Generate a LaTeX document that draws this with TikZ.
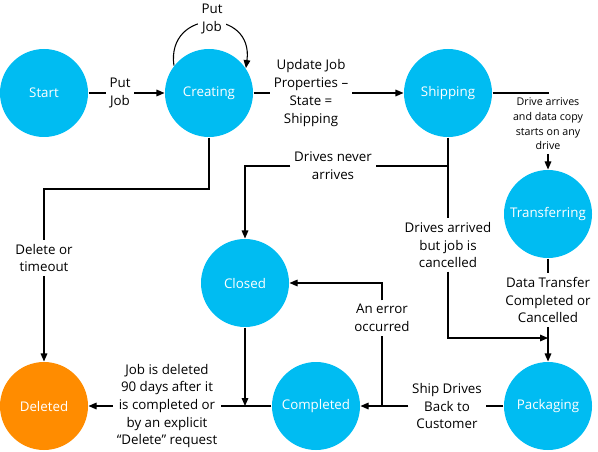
\documentclass[tikz,border=0pt]{standalone}
\usepackage{fontspec}
\setmainfont{Open Sans}
\usetikzlibrary{arrows.meta}
\definecolor{stblue}{RGB}{0,188,242}
\definecolor{storange}{RGB}{255,140,0}
\tikzset{
	state/.style={circle, fill=stblue, text=white, inner sep=0pt, minimum size=66pt, font=\fontsize{10}{12}\selectfont},
	lbl/.style={align=center, inner sep=2.5pt, font=\fontsize{10}{13.3}\selectfont},
	smalllbl/.style={lbl, font=\fontsize{8}{11}\selectfont},
	arr/.style={-{Triangle[length=6pt,width=5pt]}},
}
\begin{document}
\begin{tikzpicture}[x=0.75pt, y=-0.75pt, line width=0.8pt]
	    \useasboundingbox (0,0) rectangle (598,452);
	    
	    \node [state] (ST) at (44,93) {Start};
	    \node [state] (CR) at (209,93) {Creating};
	    \node [state] (SH) at (448,93) {Shipping};
	    \node [state] (TR) at (548,214) {Transferring};
	    \node [state] (CL) at (245,283) {Closed};
	    \node [state, fill=storange] (DE) at (44,406) {Deleted};
	    \node [state] (CO) at (316,406) {Completed};
	    \node [state] (PA) at (548,406) {Packaging};
	    
	    \node [lbl] (LPUT) at (120,93) {Put\\Job};
	    \node [lbl] (LUPD) at (311,93) {Update Job\\Properties –\\State =\\Shipping};
	    \node [smalllbl] (LDRV) at (548,124) {Drive arrives\\and data copy\\starts on any\\drive};
	    \node [lbl] (LNEV) at (333,166) {Drives never\\arrives};
	    \node [lbl] (LARR) at (448,245) {Drives arrived\\but job is\\cancelled};
	    \node [lbl] (LDAT) at (548,300) {Data Transfer\\Completed or\\Cancelled};
	    \node [lbl] (LERR) at (382,318) {An error\\occurred};
	    \node [lbl] (LSHP) at (447,406) {Ship Drives\\Back to\\Customer};
	    \node [lbl] (LJOB) at (167,406) {Job is deleted\\90 days after it\\is completed or\\by an explicit\\“Delete” request};
	    \node [lbl] (LDEL) at (44,258) {Delete or\\timeout};
	    
	    \coordinate (J1) at (448,166);
	    \coordinate (J2) at (548,338);
	    \coordinate (J3) at (382,406);
	    \coordinate (J4) at (245,406);
	    \coordinate (J5) at (44,189);
	    
		\draw (ST) -- (LPUT);
		\draw [arr] (LPUT) -- (CR);
		\draw [arr] (CR.142) .. controls (166,8) and (254,8) .. (CR.34);
		\draw (CR) -- (LUPD);
		\draw [arr] (LUPD) -- (SH);
		\draw (SH) -| (LDRV);
		\draw [arr] (LDRV) -- (TR);
		\draw (SH) -- (LARR);
		\draw (J1) -- (LNEV);
		\draw [arr] (LNEV) -| (CL);
		\draw [arr] (LARR) |- (J2);
		\draw (TR) -- (LDAT);
		\draw [arr] (LDAT) -- (PA);
		\draw (PA) -- (LSHP);
		\draw [arr] (LSHP) -- (CO);
		\draw (J3) -- (LERR);
		\draw [arr] (LERR) |- (CL);
		\draw [arr] (CL) -- (J4);
		\draw (CO) -- (LJOB);
		\draw [arr] (LJOB) -- (DE);
		\draw (CR) |- (J5) -- (LDEL);
		\draw [arr] (LDEL) -- (DE);
		
	    \node [lbl, fill=white] (LLOOP) at (212,19) {Put\\Job};
		
	\end{tikzpicture}
\end{document}
